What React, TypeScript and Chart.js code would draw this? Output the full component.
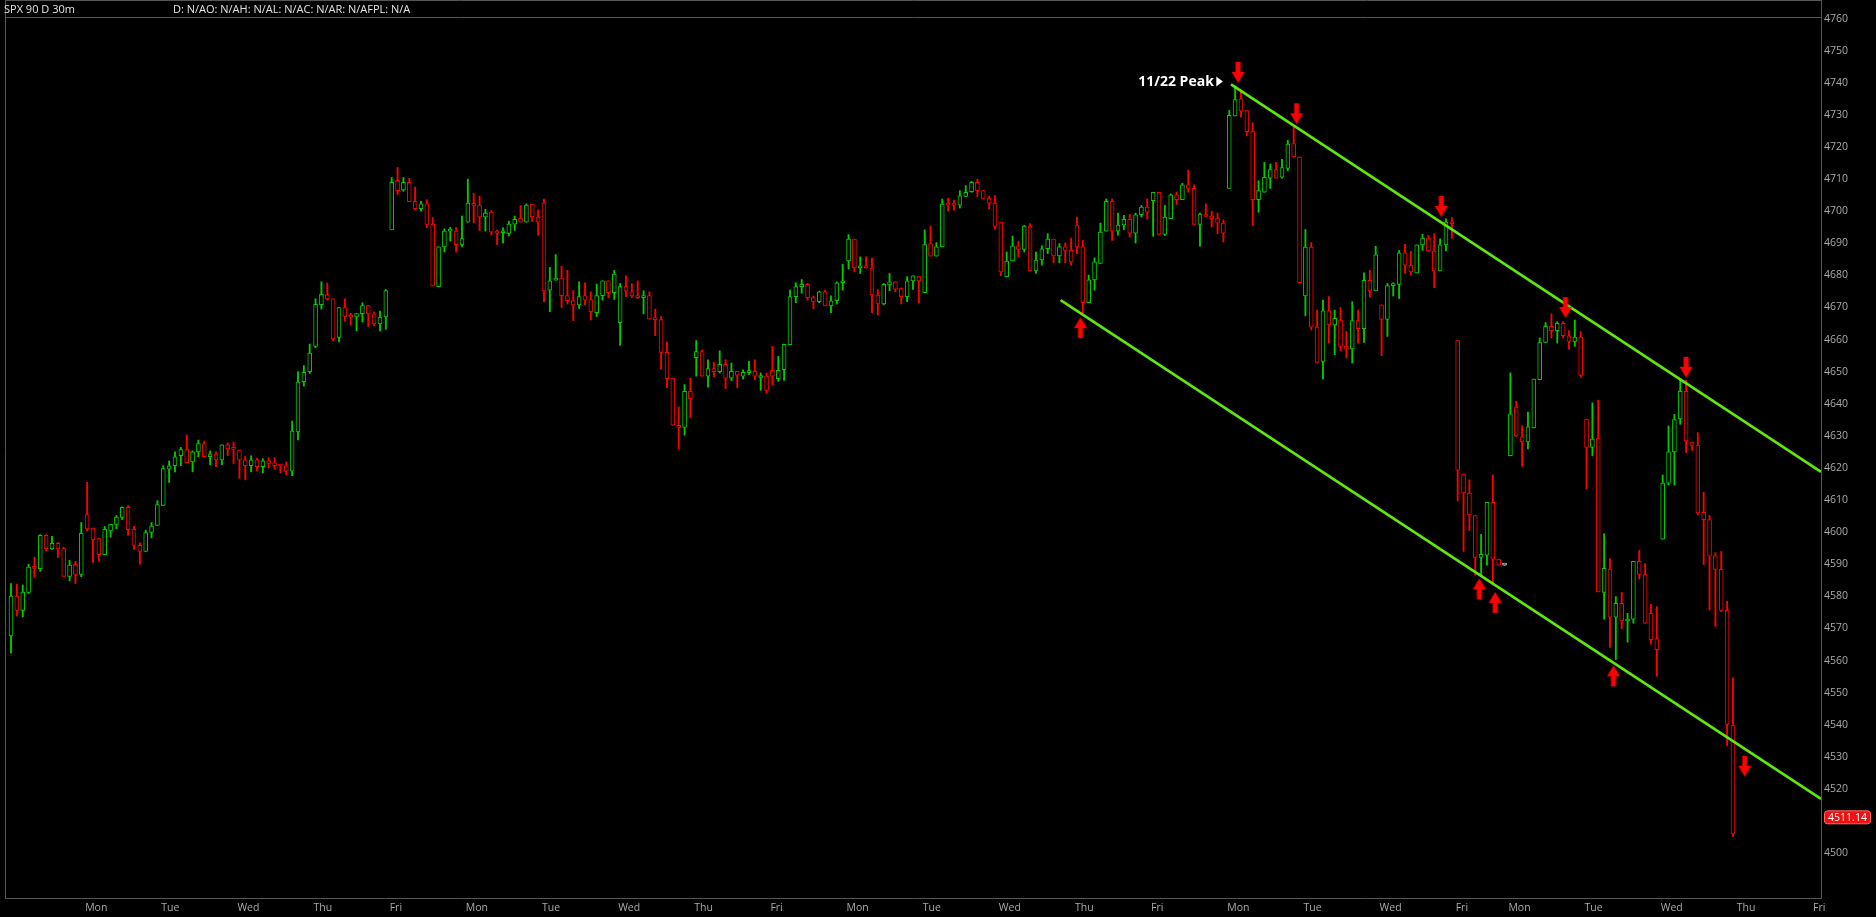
import React, { useEffect, useRef } from "react";
import { Chart, registerables } from "chart.js";

Chart.register(...registerables);

// ---- Header texts ----
const headerSymbol = "SPX 90 D 30m";
const headerStudy = "D: N/AO: N/AH: N/AL: N/AC: N/AR: N/AFPL: N/A";

// ---- 30-minute candles (bar index 0 = first bar on the chart) ----
const opens = [
  // Fri
  4567.7, 4580.1, 4575.6, 4581.2, 4589.1, 4588.6, 4599.0, 4594.8, 4596.5, 4594.9, 4586.2, 4590.0, 4586.8,
  // Mon
  4605.5, 4601.3, 4598.0, 4593.0, 4600.4, 4602.4, 4604.6, 4607.7, 4600.9, 4595.9, 4594.0, 4599.9, 4602.1,
  // Tue
  4608.3, 4619.6, 4620.7, 4623.8, 4625.7, 4621.9, 4625.0, 4627.6, 4623.5, 4624.4, 4622.5, 4627.2, 4625.9,
  // Wed
  4625.6, 4622.5, 4620.7, 4622.5, 4620.4, 4622.2, 4621.6, 4620.7, 4620.7, 4619.0, 4631.2, 4646.9, 4650.0,
  // Thu
  4657.9, 4670.9, 4674.0, 4672.7, 4660.7, 4670.0, 4667.2, 4667.1, 4668.1, 4670.6, 4668.0, 4664.9, 4667.1,
  // Fri
  4694.2, 4709.6, 4706.6, 4709.0, 4703.1, 4700.8, 4702.3, 4696.0, 4676.5, 4688.9, 4693.8, 4693.8, 4689.5,
  // Mon
  4696.6, 4702.3, 4701.9, 4698.2, 4699.7, 4693.5, 4693.3, 4693.1, 4696.0, 4697.9, 4696.6, 4702.2, 4698.2,
  // Tue
  4702.5, 4675.4, 4678.5, 4679.2, 4673.7, 4672.1, 4670.8, 4673.7, 4672.5, 4668.4, 4673.7, 4678.3, 4674.6,
  // Wed
  4665.3, 4676.5, 4674.9, 4673.4, 4673.1, 4673.7, 4666.7, 4666.2, 4656.0, 4648.0, 4633.3, 4632.6, 4643.9,
  // Thu
  4654.4, 4656.3, 4648.6, 4651.0, 4650.0, 4652.3, 4648.0, 4650.1, 4648.6, 4649.7, 4650.1, 4648.2, 4648.6,
  // Fri
  4650.4, 4647.8, 4650.6, 4658.4, 4673.4, 4676.5, 4677.2, 4673.1, 4671.8, 4674.9, 4670.5, 4672.1, 4677.7,
  // Mon
  4684.5, 4691.3, 4682.3, 4683.0, 4682.3, 4673.9, 4671.1, 4677.0, 4678.0, 4675.9, 4673.4, 4678.3, 4679.6,
  // Tue
  4674.6, 4689.9, 4686.0, 4688.9, 4702.2, 4702.2, 4701.9, 4704.6, 4706.1, 4709.0, 4706.4, 4704.1, 4702.5,
  // Wed
  4696.6, 4679.6, 4684.5, 4689.2, 4688.1, 4695.4, 4681.4, 4684.8, 4688.3, 4691.3, 4686.1, 4688.9, 4687.8,
  // Thu
  4695.7, 4688.9, 4671.5, 4678.6, 4683.7, 4693.8, 4703.1, 4693.8, 4695.7, 4697.5, 4693.2, 4698.9, 4701.3,
  // Fri
  4703.3, 4705.9, 4692.8, 4697.7, 4705.1, 4703.6, 4708.2, 4707.1, 4695.9, 4699.1, 4698.5, 4697.9, 4696.3,
  // Mon 11/22
  4707.1, 4729.7, 4735.0, 4731.4, 4724.8, 4703.6, 4705.9, 4710.3, 4713.0, 4710.6, 4713.3, 4721.1, 4716.9,
  // Tue
  4673.6, 4688.8, 4663.9, 4653.2, 4669.0, 4664.6, 4666.1, 4657.9, 4657.1, 4665.9, 4663.4, 4678.5, 4675.2,
  // Wed
  4670.8, 4666.3, 4676.8, 4677.2, 4687.0, 4683.2, 4680.8, 4689.5, 4691.6, 4687.6, 4681.4, 4689.5, 4696.6,
  // Fri (short session)
  4659.7, 4618.1, 4612.2, 4605.2, 4592.1, 4592.8, 4609.3, 4591.6, 4589.7,
  // Mon
  4623.8, 4639.0, 4629.7, 4628.1, 4632.5, 4647.5, 4659.1, 4664.1, 4662.8, 4665.1, 4661.2, 4659.4, 4660.8,
  // Tue
  4635.2, 4626.4, 4629.3, 4581.2, 4588.5, 4573.5, 4577.8, 4572.3, 4572.9, 4590.9, 4586.8, 4574.7, 4566.8,
  // Wed
  4597.8, 4615.3, 4625.0, 4635.3, 4643.9, 4628.1, 4627.1, 4606.2, 4603.9, 4592.6, 4588.4, 4575.6, 4539.9,
];

const highs = [
  4584.0, 4583.8, 4583.5, 4590.0, 4592.2, 4599.2, 4599.2, 4598.7, 4596.8, 4595.3, 4591.2, 4590.9, 4603.0,
  4615.5, 4601.3, 4598.0, 4601.8, 4602.4, 4605.2, 4607.9, 4608.3, 4601.8, 4596.7, 4600.6, 4603.0, 4609.8,
  4620.7, 4622.2, 4625.0, 4626.4, 4630.3, 4625.3, 4628.7, 4628.4, 4625.3, 4625.0, 4627.2, 4627.8, 4628.1,
  4625.6, 4623.6, 4623.8, 4623.0, 4622.9, 4623.2, 4623.2, 4620.8, 4621.9, 4634.6, 4650.0, 4651.9, 4658.6,
  4672.7, 4678.0, 4677.6, 4672.7, 4670.0, 4672.7, 4668.2, 4668.1, 4671.5, 4670.6, 4668.6, 4668.9, 4675.6,
  4710.5, 4713.6, 4710.5, 4710.3, 4707.5, 4703.1, 4703.6, 4698.0, 4688.9, 4694.5, 4695.0, 4694.9, 4698.5,
  4710.0, 4705.6, 4704.7, 4700.6, 4700.2, 4694.2, 4694.8, 4696.9, 4698.5, 4701.8, 4702.3, 4702.2, 4700.4,
  4703.8, 4682.5, 4686.5, 4682.9, 4681.6, 4675.3, 4678.0, 4677.7, 4674.9, 4677.3, 4678.3, 4678.3, 4681.6,
  4677.5, 4679.9, 4677.5, 4678.3, 4675.2, 4674.9, 4669.5, 4667.2, 4659.2, 4648.0, 4639.0, 4646.0, 4648.0,
  4659.7, 4656.8, 4653.7, 4652.9, 4656.5, 4653.7, 4652.7, 4650.1, 4650.6, 4653.2, 4653.7, 4649.6, 4649.6,
  4657.9, 4654.8, 4658.5, 4675.4, 4677.7, 4678.7, 4677.5, 4673.6, 4675.1, 4675.4, 4673.6, 4678.0, 4683.5,
  4692.7, 4691.3, 4685.8, 4685.8, 4685.4, 4675.6, 4677.5, 4680.6, 4678.0, 4676.1, 4679.6, 4679.9, 4679.6,
  4694.2, 4695.4, 4690.2, 4703.8, 4704.0, 4703.5, 4706.4, 4708.0, 4709.3, 4710.0, 4706.4, 4704.7, 4704.9,
  4696.6, 4687.3, 4692.3, 4690.7, 4695.6, 4696.1, 4687.3, 4689.2, 4693.0, 4691.3, 4689.9, 4690.1, 4691.6,
  4698.2, 4690.9, 4680.1, 4685.5, 4696.3, 4703.8, 4703.8, 4699.4, 4698.7, 4699.0, 4699.4, 4701.8, 4703.8,
  4705.9, 4705.9, 4701.8, 4705.4, 4705.9, 4708.7, 4712.8, 4708.2, 4699.4, 4702.3, 4700.0, 4699.4, 4697.3,
  4731.4, 4739.0, 4737.4, 4731.4, 4727.6, 4709.5, 4715.2, 4714.7, 4715.2, 4716.2, 4722.1, 4726.6, 4716.9,
  4694.3, 4690.2, 4669.2, 4672.3, 4673.4, 4669.2, 4670.0, 4662.5, 4671.8, 4669.2, 4680.8, 4681.6, 4689.1,
  4670.8, 4677.5, 4677.7, 4687.8, 4689.7, 4687.5, 4689.5, 4692.8, 4692.5, 4693.0, 4691.4, 4697.6, 4698.0,
  4659.7, 4618.1, 4616.3, 4605.2, 4599.3, 4609.3, 4617.8, 4591.6, 4589.7,
  4649.6, 4640.8, 4633.1, 4637.4, 4647.7, 4660.5, 4665.3, 4668.0, 4665.6, 4665.6, 4662.8, 4666.1, 4662.5,
  4635.2, 4640.3, 4641.1, 4599.5, 4591.8, 4579.9, 4581.2, 4574.7, 4590.9, 4594.3, 4590.2, 4577.5, 4576.8,
  4617.8, 4633.1, 4636.7, 4647.3, 4647.3, 4628.1, 4631.0, 4612.4, 4605.2, 4593.6, 4594.0, 4578.5, 4554.6,
];

const lows = [
  4562.3, 4573.9, 4573.6, 4580.8, 4586.0, 4587.8, 4594.1, 4594.6, 4592.1, 4586.2, 4584.8, 4584.0, 4586.1,
  4600.3, 4590.6, 4591.0, 4593.0, 4598.4, 4601.0, 4603.9, 4599.0, 4594.6, 4590.0, 4594.0, 4598.2, 4602.1,
  4608.3, 4615.5, 4618.8, 4620.7, 4621.6, 4618.8, 4623.5, 4623.5, 4621.0, 4620.4, 4621.0, 4623.8, 4621.4,
  4616.8, 4616.3, 4618.8, 4619.1, 4618.5, 4620.0, 4619.6, 4618.5, 4617.9, 4617.6, 4628.7, 4645.5, 4649.4,
  4657.5, 4669.5, 4672.3, 4659.6, 4659.3, 4665.8, 4664.6, 4662.7, 4665.5, 4664.1, 4664.3, 4662.7, 4663.2,
  4694.2, 4705.2, 4706.2, 4703.0, 4700.4, 4700.0, 4694.9, 4676.7, 4676.5, 4687.3, 4690.7, 4687.3, 4688.9,
  4696.6, 4696.4, 4694.0, 4693.8, 4692.7, 4689.6, 4690.1, 4692.3, 4694.0, 4696.6, 4696.6, 4696.8, 4692.5,
  4671.8, 4668.7, 4678.5, 4670.0, 4671.1, 4665.9, 4669.7, 4670.8, 4666.1, 4667.2, 4672.3, 4673.0, 4672.5,
  4658.2, 4673.4, 4673.1, 4672.8, 4668.0, 4666.4, 4661.2, 4650.8, 4645.0, 4633.3, 4626.0, 4630.2, 4635.7,
  4648.6, 4648.6, 4645.2, 4648.4, 4649.6, 4644.7, 4647.2, 4645.0, 4647.7, 4649.1, 4647.5, 4644.2, 4643.4,
  4645.8, 4647.0, 4647.3, 4658.4, 4671.5, 4674.4, 4672.3, 4669.6, 4671.5, 4670.5, 4668.4, 4671.1, 4675.4,
  4682.0, 4681.1, 4680.6, 4682.3, 4668.4, 4667.7, 4670.8, 4675.2, 4674.9, 4671.1, 4671.8, 4675.6, 4671.5,
  4674.6, 4686.0, 4686.0, 4688.9, 4700.0, 4700.3, 4701.0, 4704.6, 4705.9, 4704.6, 4704.0, 4700.7, 4694.5,
  4679.9, 4679.6, 4684.5, 4685.8, 4687.3, 4681.4, 4680.6, 4683.2, 4686.8, 4683.9, 4683.9, 4683.9, 4683.2,
  4686.8, 4668.2, 4671.5, 4675.4, 4683.7, 4693.8, 4690.9, 4692.5, 4694.2, 4692.0, 4690.1, 4698.2, 4697.6,
  4692.2, 4692.8, 4692.5, 4697.7, 4702.1, 4703.6, 4705.9, 4695.9, 4689.1, 4698.4, 4695.1, 4693.0, 4690.4,
  4707.1, 4729.7, 4729.3, 4723.5, 4695.6, 4699.7, 4705.9, 4707.1, 4710.3, 4710.3, 4712.6, 4716.9, 4677.7,
  4667.4, 4663.0, 4652.9, 4647.7, 4658.9, 4655.3, 4656.5, 4654.3, 4652.7, 4658.9, 4659.1, 4673.2, 4675.2,
  4655.0, 4661.0, 4673.6, 4672.8, 4680.6, 4680.1, 4680.8, 4687.8, 4687.6, 4676.2, 4681.4, 4687.6, 4691.6,
  4609.8, 4594.0, 4600.5, 4586.6, 4586.6, 4589.7, 4583.5, 4589.7, 4589.7,
  4623.8, 4629.8, 4620.5, 4625.9, 4632.5, 4647.5, 4659.1, 4660.5, 4658.9, 4660.5, 4657.0, 4657.9, 4648.3,
  4613.5, 4623.8, 4581.4, 4572.9, 4564.1, 4560.3, 4569.9, 4565.7, 4571.6, 4585.4, 4571.6, 4565.1, 4555.1,
  4597.8, 4614.7, 4614.7, 4633.6, 4624.8, 4625.5, 4605.4, 4589.9, 4575.7, 4570.6, 4575.2, 4533.4, 4505.2,
];

const closes = [
  4580.1, 4575.6, 4581.3, 4589.1, 4588.7, 4599.0, 4594.8, 4596.5, 4594.8, 4586.2, 4589.7, 4586.8, 4599.6,
  4601.0, 4597.6, 4593.0, 4600.9, 4602.4, 4604.7, 4607.7, 4600.8, 4595.9, 4594.0, 4599.9, 4601.9, 4608.6,
  4619.8, 4620.7, 4623.5, 4625.7, 4621.6, 4625.0, 4627.6, 4623.5, 4624.4, 4622.5, 4627.2, 4625.9, 4625.8,
  4622.5, 4620.7, 4622.5, 4620.4, 4622.2, 4621.4, 4620.7, 4620.6, 4619.0, 4631.5, 4646.8, 4649.8, 4655.8,
  4671.0, 4674.1, 4672.7, 4660.2, 4670.0, 4667.2, 4667.0, 4668.1, 4670.6, 4668.0, 4664.9, 4667.0, 4675.3,
  4709.0, 4706.4, 4709.0, 4703.0, 4700.8, 4702.3, 4695.9, 4676.7, 4688.9, 4693.8, 4694.1, 4689.6, 4691.5,
  4702.5, 4701.8, 4698.2, 4699.4, 4693.5, 4693.2, 4693.5, 4696.0, 4697.5, 4696.6, 4701.9, 4698.2, 4696.6,
  4675.2, 4678.3, 4679.2, 4673.7, 4672.1, 4670.8, 4673.4, 4672.3, 4668.7, 4673.7, 4678.3, 4674.6, 4680.4,
  4676.5, 4675.1, 4673.6, 4673.1, 4673.7, 4666.4, 4666.2, 4656.0, 4647.8, 4633.3, 4632.6, 4643.9, 4641.6,
  4656.3, 4648.6, 4651.0, 4650.0, 4652.3, 4648.0, 4650.1, 4648.9, 4649.8, 4650.1, 4648.6, 4648.4, 4644.2,
  4648.6, 4650.4, 4658.5, 4673.4, 4676.5, 4677.2, 4673.1, 4671.8, 4674.9, 4670.5, 4672.1, 4677.7, 4678.0,
  4691.3, 4682.3, 4683.0, 4682.3, 4673.9, 4671.1, 4677.2, 4678.0, 4675.7, 4673.4, 4678.3, 4679.9, 4678.3,
  4689.6, 4686.0, 4688.9, 4702.2, 4701.9, 4701.9, 4704.8, 4705.9, 4709.0, 4706.4, 4704.0, 4702.5, 4695.3,
  4681.1, 4684.5, 4689.2, 4688.1, 4695.4, 4681.4, 4684.8, 4688.3, 4691.3, 4686.1, 4688.9, 4687.8, 4684.2,
  4688.9, 4671.5, 4678.6, 4684.2, 4693.5, 4703.1, 4693.8, 4695.7, 4697.5, 4693.2, 4698.9, 4701.3, 4699.7,
  4705.9, 4692.8, 4698.2, 4705.1, 4703.6, 4708.2, 4707.1, 4695.9, 4699.1, 4698.4, 4697.7, 4696.3, 4693.2,
  4729.9, 4734.8, 4731.2, 4724.8, 4703.6, 4706.4, 4710.6, 4713.0, 4710.3, 4713.6, 4720.9, 4716.9, 4677.7,
  4688.8, 4663.9, 4652.9, 4669.0, 4664.6, 4666.6, 4657.9, 4657.1, 4665.9, 4663.4, 4678.5, 4675.2, 4686.4,
  4666.3, 4676.8, 4677.2, 4687.0, 4683.2, 4681.1, 4689.5, 4691.6, 4687.6, 4681.4, 4689.5, 4696.6, 4696.1,
  4619.3, 4612.2, 4605.4, 4592.1, 4593.1, 4609.3, 4591.6, 4589.7, 4589.7,
  4636.9, 4630.0, 4628.1, 4632.8, 4647.7, 4659.1, 4664.1, 4662.8, 4665.1, 4661.2, 4659.4, 4660.8, 4648.8,
  4626.4, 4629.0, 4581.4, 4588.7, 4573.5, 4577.8, 4572.3, 4572.9, 4590.9, 4586.8, 4571.6, 4566.5, 4563.4,
  4615.3, 4625.0, 4635.1, 4643.9, 4628.4, 4626.9, 4606.0, 4603.9, 4592.5, 4588.4, 4575.6, 4540.1, 4506.0,
];

// ---- Time axis: first bar index of each labelled day ----
const dayStarts = [13, 26, 39, 52, 65, 78, 91, 104, 117, 130, 143, 156, 169, 182, 195, 208, 221, 234, 247, 256, 269, 282, 295, 308];
const dayNames = ["Mon", "Tue", "Wed", "Thu", "Fri", "Mon", "Tue", "Wed", "Thu", "Fri", "Mon", "Tue", "Wed", "Thu", "Fri", "Mon", "Tue", "Wed", "Fri", "Mon", "Tue", "Wed", "Thu", "Fri"];
const xMin = -1.023;
const xMax = 309.03;

// ---- Price axis ----
const yMin = 4486.0;
const yMax = 4764.26;
const yTicks = [4500, 4510, 4520, 4530, 4540, 4550, 4560, 4570, 4580, 4590, 4600, 4610, 4620, 4630, 4640, 4650, 4660, 4670, 4680, 4690, 4700, 4710, 4720, 4730, 4740, 4750, 4760];
const lastPrice = 4511.14;

// ---- Drawings: channel lines, arrows, label ----
const upperChannel = [{ x: 208.3, y: 4739.5 }, { x: 309.03, y: 4618.8 }];
const lowerChannel = [{ x: 179.2, y: 4672.3 }, { x: 309.03, y: 4516.9 }];
const downArrows = [
  { x: 209.5, y: 4740.0 },
  { x: 219.5, y: 4727.1 },
  { x: 244.2, y: 4698.2 },
  { x: 265.4, y: 4666.7 },
  { x: 286.0, y: 4648.1 },
  { x: 296.0, y: 4523.8 },
];
const upArrows = [
  { x: 182.6, y: 4667.0 },
  { x: 250.7, y: 4585.6 },
  { x: 253.4, y: 4581.4 },
  { x: 273.6, y: 4558.5 },
];
const peakLabel = { x: 206.9, y: 4740.4, text: "11/22 Peak" };

const GREEN = "#00cc00";
const RED = "#ff0000";
const FLAT = "#d0d0d0";
const LIME = "#5fe80c";
const AXIS_TEXT = "#a9a9a9";
const FRAME = "#555555";
const FONT = "'Open Sans', 'DejaVu Sans', sans-serif";

function makeArrow(dir: "up" | "down"): HTMLCanvasElement {
  const c = document.createElement("canvas");
  c.width = 14;
  c.height = 44;
  const g = c.getContext("2d")!;
  g.fillStyle = "#ff0000";
  g.beginPath();
  if (dir === "down") {
    g.rect(4.5, 1, 5, 11);
    g.moveTo(0.5, 11);
    g.lineTo(13.5, 11);
    g.lineTo(7, 22);
    g.closePath();
  } else {
    g.moveTo(7, 22);
    g.lineTo(13.5, 33);
    g.lineTo(0.5, 33);
    g.closePath();
    g.rect(4.5, 32, 5, 11);
  }
  g.fill();
  return c;
}

const overlayPlugin = {
  id: "overlay",
  beforeDraw(chart: any) {
    const ctx = chart.ctx;
    ctx.save();
    ctx.fillStyle = "#000";
    ctx.fillRect(0, 0, chart.width, chart.height);
    ctx.restore();
  },
  afterDraw(chart: any) {
    const { ctx, chartArea: a, scales } = chart;
    const xs = scales.x;
    const ys = scales.y;
    ctx.save();

    // header strip
    ctx.fillStyle = "#000";
    ctx.fillRect(a.left, 0, a.right - a.left, 17);
    ctx.strokeStyle = FRAME;
    ctx.lineWidth = 1;
    ctx.beginPath();
    ctx.moveTo(a.left, 0.5);
    ctx.lineTo(a.right + 1, 0.5);
    ctx.moveTo(a.left, 17.5);
    ctx.lineTo(a.right + 1, 17.5);
    ctx.moveTo(a.left + 0.5, 0);
    ctx.lineTo(a.left + 0.5, a.bottom + 1);
    ctx.moveTo(a.right + 0.5, 0);
    ctx.lineTo(a.right + 0.5, a.bottom + 1);
    ctx.moveTo(a.left, a.bottom + 0.5);
    ctx.lineTo(a.right + 1, a.bottom + 0.5);
    ctx.stroke();

    ctx.font = `11px ${FONT}`;
    ctx.fillStyle = "#e2e2e2";
    ctx.textBaseline = "middle";
    ctx.textAlign = "left";
    ctx.fillText(headerSymbol, 4, 9.5);
    ctx.fillText(headerStudy, 173, 9.5);

    // peak label
    const px = xs.getPixelForValue(peakLabel.x);
    const py = ys.getPixelForValue(peakLabel.y);
    ctx.fillStyle = "#ffffff";
    ctx.beginPath();
    ctx.moveTo(px, py);
    ctx.lineTo(px - 6.5, py - 5);
    ctx.lineTo(px - 6.5, py + 5);
    ctx.closePath();
    ctx.fill();
    ctx.font = `bold 14px ${FONT}`;
    ctx.textAlign = "right";
    ctx.fillText(peakLabel.text, px - 9, py + 0.5);

    // last price badge
    const by = ys.getPixelForValue(lastPrice);
    const bx = a.right + 3;
    ctx.fillStyle = "#ee1111";
    ctx.strokeStyle = "#ff6a6a";
    ctx.beginPath();
    if (ctx.roundRect) ctx.roundRect(bx + 0.5, by - 6.5, 46, 13, 3);
    else ctx.rect(bx + 0.5, by - 6.5, 46, 13);
    ctx.fill();
    ctx.stroke();
    ctx.fillStyle = "#ffffff";
    ctx.font = `10.5px ${FONT}`;
    ctx.textAlign = "center";
    ctx.fillText(lastPrice.toFixed(2), bx + 23.5, by + 0.5);

    ctx.restore();
  },
};

export default function App() {
  const ref = useRef<HTMLCanvasElement>(null);

  useEffect(() => {
    document.body.style.margin = "0";
    document.body.style.background = "#000";
    const canvas = ref.current;
    if (!canvas) return;

    const idx = opens.map((_, i) => i);
    const colors = idx.map((i) => (closes[i] > opens[i] ? GREEN : closes[i] < opens[i] ? RED : FLAT));
    const downImg = makeArrow("down");
    const upImg = makeArrow("up");

    const chart = new Chart(canvas, {
      type: "bar",
      data: {
        datasets: [
          {
            type: "bar",
            label: "wicks",
            data: idx.map((i) => ({ x: i, y: [lows[i], highs[i]] })) as any,
            backgroundColor: colors,
            borderWidth: 0,
            barThickness: 1.2,
            minBarLength: 1,
            grouped: false,
            order: 4,
          } as any,
          {
            type: "bar",
            label: "bodies",
            data: idx.map((i) => ({ x: i, y: [opens[i], closes[i]] })) as any,
            backgroundColor: "#000000",
            borderColor: colors,
            borderWidth: 1,
            borderSkipped: false,
            barThickness: 4,
            minBarLength: 2,
            grouped: false,
            order: 3,
          } as any,
          {
            type: "line",
            label: "upper",
            data: upperChannel,
            borderColor: LIME,
            borderWidth: 2.6,
            pointRadius: 0,
            fill: false,
            order: 2,
          } as any,
          {
            type: "line",
            label: "lower",
            data: lowerChannel,
            borderColor: LIME,
            borderWidth: 2.6,
            pointRadius: 0,
            fill: false,
            order: 2,
          } as any,
          {
            type: "scatter",
            label: "down",
            data: downArrows,
            pointStyle: downImg,
            pointRadius: 4,
            order: 1,
          } as any,
          {
            type: "scatter",
            label: "up",
            data: upArrows,
            pointStyle: upImg,
            pointRadius: 4,
            order: 1,
          } as any,
        ],
      },
      options: {
        animation: false,
        responsive: false,
        devicePixelRatio: 1,
        events: [],
        layout: { padding: { left: 2, right: 0, top: 0, bottom: 0 } },
        plugins: {
          legend: { display: false },
          tooltip: { enabled: false },
        },
        scales: {
          x: {
            type: "linear",
            min: xMin,
            max: xMax,
            offset: false,
            bounds: "data",
            grid: { display: false, drawTicks: false },
            border: { display: false },
            afterBuildTicks: (s: any) => {
              s.ticks = dayStarts.map((v) => ({ value: v }));
            },
            afterFit: (s: any) => {
              s.height = 19;
              s.paddingLeft = 0;
              s.paddingRight = 0;
            },
            ticks: {
              autoSkip: false,
              maxRotation: 0,
              minRotation: 0,
              align: "start",
              labelOffset: -2,
              padding: 4,
              color: AXIS_TEXT,
              font: { family: FONT, size: 10.5 },
              callback: (v: any) => {
                const k = dayStarts.indexOf(Number(v));
                return k >= 0 ? dayNames[k] : "";
              },
            },
          } as any,
          y: {
            type: "linear",
            position: "right",
            min: yMin,
            max: yMax,
            beginAtZero: false,
            bounds: "data",
            grid: { display: false, drawTicks: false },
            border: { display: false },
            afterBuildTicks: (s: any) => {
              s.ticks = yTicks.map((v) => ({ value: v }));
            },
            afterFit: (s: any) => {
              s.width = 55;
              s.paddingTop = 0;
              s.paddingBottom = 0;
            },
            ticks: {
              autoSkip: false,
              padding: 3,
              color: AXIS_TEXT,
              font: { family: FONT, size: 10.5 },
              callback: (v: any) => String(v),
            },
          } as any,
        },
      } as any,
      plugins: [overlayPlugin],
    });

    return () => chart.destroy();
  }, []);

  return <canvas ref={ref} width={1876} height={917} style={{ display: "block", width: 1876, height: 917 }} />;
}
